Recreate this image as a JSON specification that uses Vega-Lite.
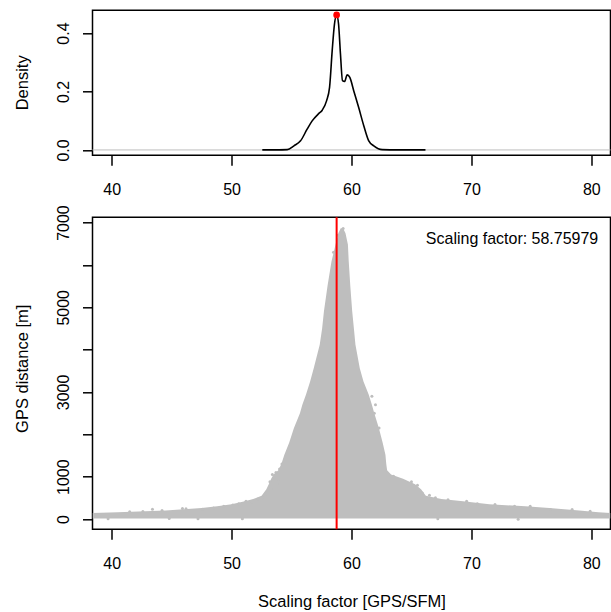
{
  "$schema": "https://vega.github.io/schema/vega-lite/v6.json",
  "padding": {"left": 13.5, "top": 9.3, "right": 0, "bottom": 0},
  "spacing": 4,
  "config": {
    "view": {"stroke": "black", "strokeWidth": 1.5},
    "axis": {"domain": false, "grid": false, "tickColor": "black", "tickWidth": 1.5, "tickSize": 10,
      "labelFont": "Liberation Sans", "labelFontSize": 16, "labelColor": "black",
      "titleFont": "Liberation Sans", "titleFontSize": 16.5, "titleFontWeight": "normal", "titleColor": "black"}
  },
  "datasets": {
    "density": [
      {"x": 52.56, "y": 0.0}, {"x": 53.5, "y": 0.0002}, {"x": 54.64, "y": 0.001}, {"x": 55.2, "y": 0.014},
      {"x": 55.75, "y": 0.031}, {"x": 56.3, "y": 0.071}, {"x": 56.72, "y": 0.0995}, {"x": 57.28, "y": 0.125},
      {"x": 57.56, "y": 0.136}, {"x": 57.92, "y": 0.168}, {"x": 58.17, "y": 0.214}, {"x": 58.39, "y": 0.34},
      {"x": 58.58, "y": 0.431}, {"x": 58.76, "y": 0.462}, {"x": 58.92, "y": 0.431}, {"x": 59.08, "y": 0.328},
      {"x": 59.25, "y": 0.237}, {"x": 59.42, "y": 0.234}, {"x": 59.64, "y": 0.257}, {"x": 59.86, "y": 0.248},
      {"x": 60.19, "y": 0.202}, {"x": 60.6, "y": 0.145}, {"x": 61.03, "y": 0.082}, {"x": 61.44, "y": 0.031},
      {"x": 61.86, "y": 0.014}, {"x": 62.56, "y": 0.001}, {"x": 64.0, "y": 0.0002}, {"x": 66.17, "y": 0.0}
    ],
    "cloud": [
      {"d": 10, "xl": 38.4, "xr": 81.6}, {"d": 140, "xl": 38.4, "xr": 81.6}, {"d": 160, "xl": 40.5, "xr": 80.6},
      {"d": 200, "xl": 44.5, "xr": 79.0}, {"d": 260, "xl": 47.5, "xr": 76.5}, {"d": 300, "xl": 48.8, "xr": 74.5},
      {"d": 350, "xl": 50.0, "xr": 71.5}, {"d": 420, "xl": 51.1, "xr": 69.3}, {"d": 470, "xl": 51.8, "xr": 67.5},
      {"d": 550, "xl": 52.5, "xr": 66.2}, {"d": 700, "xl": 52.9, "xr": 65.8}, {"d": 820, "xl": 53.1, "xr": 65.3},
      {"d": 950, "xl": 53.3, "xr": 64.3}, {"d": 1050, "xl": 53.5, "xr": 63.3}, {"d": 1150, "xl": 53.9, "xr": 62.97},
      {"d": 1300, "xl": 54.15, "xr": 62.9}, {"d": 1519, "xl": 54.4, "xr": 62.83}, {"d": 1800, "xl": 54.8, "xr": 62.6},
      {"d": 2147, "xl": 55.2, "xr": 62.28}, {"d": 2500, "xl": 55.7, "xr": 61.9}, {"d": 2700, "xl": 55.9, "xr": 61.7},
      {"d": 2935, "xl": 56.2, "xr": 61.44}, {"d": 3250, "xl": 56.55, "xr": 61.0}, {"d": 3562, "xl": 56.85, "xr": 60.69},
      {"d": 4114, "xl": 57.35, "xr": 60.33}, {"d": 4500, "xl": 57.55, "xr": 60.2}, {"d": 4900, "xl": 57.7, "xr": 60.06},
      {"d": 5500, "xl": 58.0, "xr": 59.9}, {"d": 6080, "xl": 58.33, "xr": 59.77}, {"d": 6480, "xl": 58.67, "xr": 59.7},
      {"d": 6750, "xl": 58.9, "xr": 59.5}, {"d": 6865, "xl": 59.1, "xr": 59.3}
    ],
    "scatter": [
      {"x": 41.5, "d": 170}, {"x": 42.6, "d": 175}, {"x": 43.4, "d": 229}, {"x": 44.2, "d": 200}, {"x": 45.9, "d": 250},
      {"x": 46.2, "d": 240}, {"x": 47.6, "d": 230}, {"x": 48.5, "d": 260}, {"x": 49.35, "d": 300}, {"x": 50.1, "d": 330},
      {"x": 50.6, "d": 360}, {"x": 51.2, "d": 420}, {"x": 51.7, "d": 400}, {"x": 52.2, "d": 470}, {"x": 52.55, "d": 500},
      {"x": 53.0, "d": 560}, {"x": 39.7, "d": 5}, {"x": 50.9, "d": 5}, {"x": 44.8, "d": 12}, {"x": 47.2, "d": 8},
      {"x": 53.4, "d": 1050}, {"x": 53.6, "d": 1000}, {"x": 53.9, "d": 950}, {"x": 53.2, "d": 880}, {"x": 53.7, "d": 1100},
      {"x": 54.0, "d": 1180}, {"x": 54.2, "d": 1300}, {"x": 54.0, "d": 820}, {"x": 53.5, "d": 700},
      {"x": 63.5, "d": 1007}, {"x": 64.0, "d": 930}, {"x": 64.6, "d": 852}, {"x": 65.0, "d": 880}, {"x": 65.5, "d": 800},
      {"x": 65.9, "d": 614}, {"x": 66.5, "d": 560}, {"x": 67.0, "d": 500}, {"x": 68.05, "d": 457}, {"x": 69.6, "d": 418},
      {"x": 70.5, "d": 360}, {"x": 71.97, "d": 340}, {"x": 73.6, "d": 300}, {"x": 74.9, "d": 300}, {"x": 76.6, "d": 222},
      {"x": 78.4, "d": 222}, {"x": 79.9, "d": 182}, {"x": 67.2, "d": 5}, {"x": 73.9, "d": -5},
      {"x": 62.0, "d": 2700}, {"x": 61.7, "d": 2900}, {"x": 61.9, "d": 2500}, {"x": 62.3, "d": 2150},
      {"x": 59.3, "d": 6860}, {"x": 58.85, "d": 6700}, {"x": 58.5, "d": 6300}
    ],
    "one": [{}]
  },
  "vconcat": [
    {
      "width": 518,
      "height": 145,
      "layer": [
        {
          "data": {"name": "one"},
          "mark": {"type": "rule", "color": "#BEBEBE", "strokeWidth": 1},
          "encoding": {"y": {"datum": 0, "type": "quantitative"}}
        },
        {
          "data": {"name": "density"},
          "mark": {"type": "line", "color": "black", "strokeWidth": 1.6, "interpolate": "monotone", "clip": true},
          "encoding": {
            "x": {"field": "x", "type": "quantitative",
              "scale": {"domain": [38.4, 81.6], "nice": false, "zero": false},
              "axis": {"values": [40, 50, 60, 70, 80], "title": null, "labelPadding": 24.5, "labelBaseline": "middle"}},
            "y": {"field": "y", "type": "quantitative",
              "scale": {"domain": [-0.0184, 0.478], "nice": false, "zero": false},
              "axis": {"values": [0, 0.1, 0.2, 0.3, 0.4], "title": "Density", "labelAngle": -90, "labelAlign": "center",
                "labelBaseline": "middle", "labelPadding": 18.7,
                "labelExpr": "(round(datum.value*10) % 2 == 1) ? '' : format(datum.value, '.1f')",
                "titleX": -70, "titleY": 72, "titleBaseline": "middle", "titleAngle": -90, "titleAlign": "center"}}
          }
        },
        {
          "data": {"name": "one"},
          "mark": {"type": "point", "filled": true, "color": "#FF0000", "size": 45, "opacity": 1},
          "encoding": {
            "x": {"datum": 58.75979, "type": "quantitative"},
            "y": {"datum": 0.462, "type": "quantitative"}
          }
        }
      ]
    },
    {
      "width": 518,
      "height": 312,
      "layer": [
        {
          "data": {"name": "cloud"},
          "mark": {"type": "area", "orient": "horizontal", "color": "#BEBEBE", "opacity": 1, "clip": true},
          "encoding": {
            "y": {"field": "d", "type": "quantitative",
              "scale": {"domain": [-243, 7125], "nice": false, "zero": false},
              "axis": {"values": [0, 1000, 2000, 3000, 4000, 5000, 6000, 7000], "format": "d",
                "title": "GPS distance [m]", "labelAngle": -90, "labelAlign": "center",
                "labelBaseline": "middle", "labelPadding": 18.7,
                "labelExpr": "(datum.value > 0 && datum.value % 2000 == 0) ? '' : format(datum.value, 'd')",
                "titleX": -70, "titleY": 151, "titleBaseline": "middle", "titleAngle": -90, "titleAlign": "center"}},
            "x": {"field": "xl", "type": "quantitative",
              "scale": {"domain": [38.4, 81.6], "nice": false, "zero": false},
              "axis": {"values": [40, 50, 60, 70, 80], "title": "Scaling factor [GPS/SFM]",
                "labelPadding": 24.5, "labelBaseline": "middle",
                "titleY": 72, "titleBaseline": "middle"}},
            "x2": {"field": "xr"}
          }
        },
        {
          "data": {"name": "scatter"},
          "mark": {"type": "point", "filled": true, "color": "#BEBEBE", "size": 9, "opacity": 1, "clip": true},
          "encoding": {
            "x": {"field": "x", "type": "quantitative"},
            "y": {"field": "d", "type": "quantitative"}
          }
        },
        {
          "data": {"name": "one"},
          "mark": {"type": "rule", "color": "#FF0000", "strokeWidth": 2},
          "encoding": {"x": {"datum": 58.75979, "type": "quantitative"}}
        },
        {
          "data": {"name": "one"},
          "mark": {"type": "text", "align": "right", "baseline": "middle", "font": "Liberation Sans", "fontSize": 16, "color": "black"},
          "encoding": {
            "x": {"datum": 80.58, "type": "quantitative"},
            "y": {"datum": 6622, "type": "quantitative"},
            "text": {"value": "Scaling factor: 58.75979"}
          }
        }
      ]
    }
  ]
}
